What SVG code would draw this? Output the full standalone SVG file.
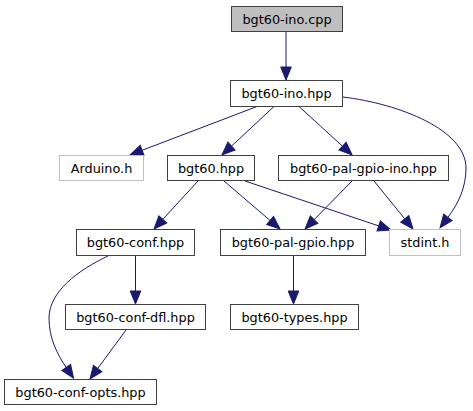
<svg xmlns="http://www.w3.org/2000/svg" width="473" height="411" viewBox="0 0 473 411">
<style>
.n rect{fill:#fff;stroke:#404040;stroke-width:1}
.n.g rect{stroke:#bfbfbf}
.n.f rect{fill:#bfbfbf}
.n text{font-family:"DejaVu Sans",sans-serif;font-size:12.85px;fill:#000;text-anchor:middle}
.e path{fill:none;stroke:#191970;stroke-width:1;marker-end:url(#ah)}
</style>
<defs>
<marker id="ah" markerUnits="userSpaceOnUse" markerWidth="14" markerHeight="12" refX="0" refY="5.3" orient="auto" viewBox="0 0 14 10.6" overflow="visible">
<path d="M0,0 L13,5.3 L0,10.6 z" fill="#191970" stroke="#191970" stroke-width="1"/>
</marker>
</defs>
<rect width="473" height="411" fill="#fff"/>
<g id="edges" class="e">
<path d="M286,31.5 L286,67"/>
<path d="M257,106.5 L142.1,150.3"/>
<path d="M274,106.5 L231.5,146.1"/>
<path d="M299,106.5 L342.5,146.2"/>
<path d="M343,97 C400,104 466,130 466,168 C466,188 458,204 447.9,217.4"/>
<path d="M198,181 L162.8,219.4"/>
<path d="M224,181 L270.1,220.5"/>
<path d="M245,181 L378.7,225.9"/>
<path d="M352,181 L314.1,219.7"/>
<path d="M374,181 L404.8,218.9"/>
<path d="M108,256 C78,270 49,292 49,318 C49,338 57,354 66.2,367.4"/>
<path d="M135.5,256 L135.5,291"/>
<path d="M293.5,256 L293.5,291"/>
<path d="M126,330 L97.7,368.5"/>
</g>
<g id="node-bgt60-ino-cpp" class="n f"><rect x="231.5" y="6.5" width="111" height="25"/><text x="287" y="23.5">bgt60-ino.cpp</text></g>
<g id="node-bgt60-ino-hpp" class="n"><rect x="230.5" y="80.5" width="112" height="26"/><text x="286.5" y="98">bgt60-ino.hpp</text></g>
<g id="node-arduino-h" class="n g"><rect x="59.5" y="155.5" width="84" height="25"/><text x="101.5" y="172.5">Arduino.h</text></g>
<g id="node-bgt60-hpp" class="n"><rect x="167.5" y="155.5" width="87" height="25"/><text x="211" y="172.5">bgt60.hpp</text></g>
<g id="node-bgt60-pal-gpio-ino-hpp" class="n"><rect x="278.5" y="155.5" width="170" height="25"/><text x="363.5" y="172.5">bgt60-pal-gpio-ino.hpp</text></g>
<g id="node-bgt60-conf-hpp" class="n"><rect x="76.5" y="229.5" width="118" height="26"/><text x="135.5" y="247">bgt60-conf.hpp</text></g>
<g id="node-bgt60-pal-gpio-hpp" class="n"><rect x="220.5" y="229.5" width="145" height="26"/><text x="293" y="247">bgt60-pal-gpio.hpp</text></g>
<g id="node-stdint-h" class="n g"><rect x="389.5" y="229.5" width="71" height="26"/><text x="425" y="247">stdint.h</text></g>
<g id="node-bgt60-conf-dfl-hpp" class="n"><rect x="65.5" y="304.5" width="140" height="25"/><text x="135.5" y="321.5">bgt60-conf-dfl.hpp</text></g>
<g id="node-bgt60-types-hpp" class="n"><rect x="230.5" y="304.5" width="128" height="25"/><text x="294.5" y="321.5">bgt60-types.hpp</text></g>
<g id="node-bgt60-conf-opts-hpp" class="n"><rect x="4.5" y="379.5" width="152" height="25"/><text x="80.5" y="396.5">bgt60-conf-opts.hpp</text></g>
</svg>
